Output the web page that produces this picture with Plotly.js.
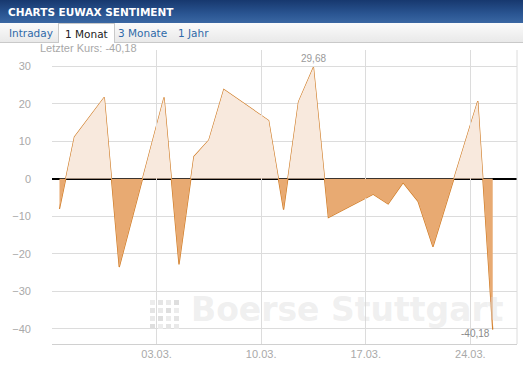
<!DOCTYPE html>
<html><head><meta charset="utf-8">
<script src="https://cdn.plot.ly/plotly-3.0.1.min.js"></script>
<style>
html,body{margin:0;padding:0;background:#fff;}
#wrap{position:relative;width:523px;height:382px;overflow:hidden;font-family:"DejaVu Sans",Verdana,sans-serif;}
#hdr{position:absolute;left:0;top:0;width:523px;height:23px;background:linear-gradient(#17386e,#2a5592 60%,#3a67a3);color:#fff;font-weight:bold;font-size:10.5px;line-height:24px;padding-left:8px;box-sizing:border-box;}
#tabs{position:absolute;left:0;top:23px;width:523px;height:20px;background:linear-gradient(#fbfbfb,#e9e9e9);border-bottom:1px solid #c9c9c9;box-sizing:border-box;font-size:10.5px;}
.tab{position:absolute;top:0;height:20px;line-height:21px;color:#2f6aa8;}
.sel{background:#fff;border:1px solid #c9c9c9;border-bottom:none;color:#222;box-sizing:border-box;height:20px;padding:0 6px;}
#kurs{position:absolute;left:40px;top:42px;font-family:"Liberation Sans",Arial,sans-serif;font-size:11px;color:#a8a8a8;}
#plot{position:absolute;left:0;top:0;width:523px;height:382px;}
#logo{position:absolute;left:150px;top:300px;width:32px;height:30px;}
#logo span{position:absolute;width:5px;height:5px;background:#e6e6e6;}
</style></head>
<body><div id="wrap">
<div id="plot"></div>
<div id="hdr">CHARTS EUWAX SENTIMENT</div>
<div id="tabs">
<span class="tab" style="left:9px">Intraday</span>
<span class="tab sel" style="left:58px">1 Monat</span>
<span class="tab" style="left:118px">3 Monate</span>
<span class="tab" style="left:178px">1 Jahr</span>
</div>
<div id="kurs">Letzter Kurs: -40,18</div>
<div id="logo"></div>
</div>
<script>
// Data
var dates = ["2014-02-24 12:00","2014-02-25 12:00","2014-02-27 12:00","2014-02-28 12:00",
 "2014-03-03 12:00","2014-03-04 12:00","2014-03-05 12:00","2014-03-06 12:00","2014-03-07 12:00",
 "2014-03-10 12:00","2014-03-11 12:00","2014-03-12 12:00","2014-03-13 12:00","2014-03-14 12:00",
 "2014-03-17 12:00","2014-03-18 12:00","2014-03-19 12:00","2014-03-20 12:00","2014-03-21 12:00",
 "2014-03-24 12:00","2014-03-25 12:00"];
var values = [-8.0, 11.1, 21.7, -23.5,
 21.7, -22.8, 5.9, 10.3, 23.8,
 15.5, -8.2, 20.5, 29.68, -10.3,
 -4.1, -6.7, -1.0, -6.0, -18.1,
 20.7, -40.18];
var tickDates = ["2014-03-03","2014-03-10","2014-03-17","2014-03-24"];
var tickLabels = ["03.03.","10.03.","17.03.","24.03."];
var yTicks = [-40,-30,-20,-10,0,10,20,30];
var maxLabel = "29,68", minLabel = "-40,18";

var YMIN = -44.0, YMAX = 34.3;
var zf = (0 - YMIN) / (YMAX - YMIN);
var xr = ["2014-02-24 00:00","2014-03-27 03:00"];
var grey = "#a9a9a9";
var lineCol = "#cf7a22";

var iMax = values.indexOf(Math.max.apply(null, values));
var iMin = values.indexOf(Math.min.apply(null, values));

var traces = [
 {x: dates, y: values, xaxis:"x", yaxis:"y2", type:"scatter", mode:"none", fill:"tozeroy", fillcolor:"#f8e9dd", hoverinfo:"skip"},
 {x: dates, y: values, xaxis:"x", yaxis:"y3", type:"scatter", mode:"none", fill:"tozeroy", fillcolor:"#e8aa72", hoverinfo:"skip"},
 {x: dates, y: values, xaxis:"x", yaxis:"y", type:"scatter", mode:"lines", line:{color:lineCol, width:1.2}, hoverinfo:"skip"}
];

var layout = {
 width:523, height:382,
 margin:{l:52, r:6, t:50, b:38},
 paper_bgcolor:"rgba(0,0,0,0)", plot_bgcolor:"rgba(0,0,0,0)",
 showlegend:false,
 font:{family:"Liberation Sans, Arial, sans-serif", size:11, color:grey},
 xaxis:{type:"date", range:xr, tickvals:tickDates, ticktext:tickLabels, showgrid:true, gridcolor:"#dcdcdc", gridwidth:1,
   showline:true, linecolor:"#d0d0d0", linewidth:1, ticks:"", zeroline:false, tickfont:{size:11, color:grey}, fixedrange:true},
 yaxis:{range:[YMIN,YMAX], tickvals:yTicks, showgrid:true, gridcolor:"#dcdcdc", gridwidth:1, zeroline:true, zerolinecolor:"#000", zerolinewidth:1.5,
   showline:false, ticks:"", ticklabelstandoff:20, tickfont:{size:11, color:grey}},
 yaxis2:{domain:[zf,1], range:[0,YMAX], visible:false, anchor:"x"},
 yaxis3:{domain:[0,zf], range:[YMIN,0], visible:false, anchor:"x"},
 shapes:[
  {type:"line", xref:"paper", yref:"paper", x0:1, x1:1, y0:0, y1:1, line:{color:"#dcdcdc", width:1}}
 ],
 annotations:[
  {x:dates[iMax], y:values[iMax], xref:"x", yref:"y", text:maxLabel, showarrow:false, yanchor:"bottom", yshift:1, font:{size:10, color:"#9a9a9a"}},
  {x:dates[iMin], y:values[iMin], xref:"x", yref:"y", text:minLabel, showarrow:false, xanchor:"right", yanchor:"middle", xshift:-1, yshift:-4, font:{size:10, color:"#8a8a8a"}},
  {x:0.635, y:0.045, xref:"paper", yref:"paper", text:"<b>Boerse Stuttgart</b>", showarrow:false, font:{family:"DejaVu Sans, sans-serif", size:33, color:"rgba(215,215,215,0.4)"}}
 ]
};

Plotly.newPlot("plot", traces, layout, {staticPlot:true, displayModeBar:false});

// decorative dot logo
var logo = document.getElementById("logo");
var shades = ["#ececec","#e4e4e4","#e9e9e9","#dedede"];
for (var r=0;r<4;r++) for (var c=0;c<4;c++){
  var s=document.createElement("span");
  s.style.left=(c*8)+"px"; s.style.top=(r*8)+"px";
  s.style.background=shades[(r+c)%4];
  logo.appendChild(s);
}
</script>
</body></html>
